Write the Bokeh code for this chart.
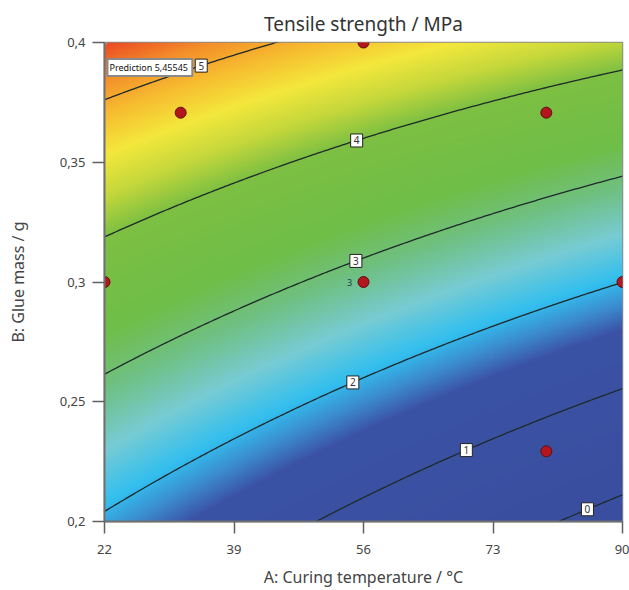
import numpy as np
from bokeh.plotting import figure
from bokeh.models import FixedTicker, Label
from bokeh.embed import file_html
from bokeh.resources import INLINE
from bokeh.core.properties import value

# ---- data ----
A_range = [22, 90]          # A: Curing temperature / °C
B_range = [0.2, 0.4]        # B: Glue mass / g
x_ticks = [22, 39, 56, 73, 90]
y_ticks = [0.2, 0.25, 0.3, 0.35, 0.4]
y_tick_labels = ["0,2", "0,25", "0,3", "0,35", "0,4"]

# fitted quadratic model in coded units a=(A-56)/34, b=(B-0.3)/0.1
# terms: const, a, b, ab, a^2, b^2
coef = [2.80, -0.834, 2.00, 0.255, 0.038, 0.0]
A_center, A_half = 56, 34
B_center, B_half = 0.3, 0.1

levels = [0, 1, 2, 3, 4, 5]
level_label_A = [85.4, 69.5, 54.6, 55.0, 55.1, 34.7]

design_A = [22, 56, 56, 90, 32, 80, 80]
design_B = [0.3, 0.4, 0.3, 0.3, 0.3707, 0.3707, 0.2293]
center_reps = "3"
prediction_text = "Prediction  5,45545"
title_text = "Tensile strength / MPa"
x_label = "A: Curing temperature / °C"
y_label = "B: Glue mass / g"

FONT = "Noto Sans"

def model(A, B):
    a = (np.asarray(A) - A_center) / A_half
    b = (np.asarray(B) - B_center) / B_half
    c0, c1, c2, c12, c11, c22 = coef
    return c0 + c1 * a + c2 * b + c12 * a * b + c11 * a * a + c22 * b * b

def contour_B(A, v):
    a = (np.asarray(A, dtype=float) - A_center) / A_half
    c0, c1, c2, c12, c11, c22 = coef
    lin = c2 + c12 * a
    const = c0 + c1 * a + c11 * a * a - v
    if abs(c22) < 1e-12:
        b = -const / lin
    else:
        disc = lin * lin - 4 * c22 * const
        b = (-lin + np.sqrt(np.maximum(disc, 0))) / (2 * c22)
    return B_center + b * B_half

# ---- colour ramp (style) ----
stops_v = [0.0, 1.55, 1.8, 2.05, 2.45, 2.9, 3.3, 4.0, 4.3, 4.6, 4.9, 5.15, 5.45]
stops_c = ["#3a4e9f", "#3b53a5", "#3c8dd0", "#33bfef", "#78ccd4", "#6fc081",
           "#6fbe48", "#7dc043", "#c5d83b", "#f4e83c", "#f7bc30", "#f4902a", "#ea3f22"]
rgb = np.array([[int(c[i:i + 2], 16) for i in (1, 3, 5)] for c in stops_c], dtype=float)

nx, ny = 360, 330
gA = np.linspace(A_range[0], A_range[1], nx)
gB = np.linspace(B_range[0], B_range[1], ny)
AA, BB = np.meshgrid(gA, gB)
Z = model(AA, BB)
img = np.empty((ny, nx), dtype=np.uint32)
view = img.view(dtype=np.uint8).reshape((ny, nx, 4))
for ch in range(3):
    view[:, :, ch] = np.interp(Z, stops_v, rgb[:, ch]).astype(np.uint8)
view[:, :, 3] = 255

p = figure(width=629, height=590, x_range=(A_range[0], A_range[1]),
           y_range=(B_range[0], B_range[1]), output_backend="svg",
           toolbar_location=None, min_border_left=104, min_border_right=7,
           min_border_top=42, min_border_bottom=69)
p.background_fill_color = "white"
p.border_fill_color = "white"
p.grid.visible = False
p.outline_line_color = "#8a8a8a"
p.outline_line_width = 1.5

p.title.text = title_text
p.title.align = "center"
p.title.text_font = FONT
p.title.text_font_size = "19px"
p.title.text_font_style = "normal"
p.title.text_color = "#333333"
p.title.standoff = 12

p.image_rgba(image=[img], x=A_range[0], y=B_range[0], dw=A_range[1] - A_range[0],
             dh=B_range[1] - B_range[0])

# contour lines
lineA = np.linspace(A_range[0], A_range[1], 300)
for v in levels:
    p.line(lineA, contour_B(lineA, v), line_color="#1e2a2a", line_width=1.3)

# contour labels
labB = [float(contour_B(a, v)) for a, v in zip(level_label_A, levels)]
p.rect(x=level_label_A, y=labB, width=12, height=13, width_units="screen",
       height_units="screen", fill_color="white", line_color="#222222", line_width=1)
p.text(x=level_label_A, y=labB, text=[str(v) for v in levels], text_align="center",
       text_baseline="middle", text_font=value(FONT), text_font_size="10px",
       text_color="#333333")

# design points
p.scatter(design_A, design_B, size=11, fill_color="#b3161c", line_color="#5a1010",
          line_width=1)
p.text(x=[design_A[2]], y=[design_B[2]], text=[center_reps], x_offset=-14,
       text_align="center", text_baseline="middle", text_font=value(FONT),
       text_font_size="9px", text_color="#1f4040")

# prediction flag
p.scatter([A_range[0]], [B_range[1]], size=5, fill_color="#999999", line_color="#999999")
p.add_layout(Label(x=A_range[0], y=B_range[1], x_offset=3, y_offset=-25,
                   text=prediction_text, text_font=FONT, text_font_size="9px",
                   text_color="#111111", text_baseline="middle",
                   background_fill_color="white", border_line_color="#8a8a8a",
                   border_line_width=2, padding=2))

# axes
for ax in (p.xaxis[0], p.yaxis[0]):
    ax.axis_line_color = "#707070"
    ax.axis_line_width = 2
    ax.major_tick_line_color = "#606060"
    ax.major_tick_line_width = 1.5
    ax.major_tick_out = 12
    ax.major_tick_in = 0
    ax.minor_tick_line_color = None
    ax.major_label_text_font = FONT
    ax.major_label_text_font_size = "13px"
    ax.major_label_text_color = "#444444"
    ax.axis_label_text_font = FONT
    ax.axis_label_text_font_size = "16px"
    ax.axis_label_text_font_style = "normal"
    ax.axis_label_text_color = "#444444"
p.xaxis.ticker = FixedTicker(ticks=x_ticks)
p.yaxis.ticker = FixedTicker(ticks=y_ticks)
p.yaxis.major_label_overrides = {t: l for t, l in zip(y_ticks, y_tick_labels)}
p.xaxis.major_label_standoff = 11
p.yaxis.major_label_standoff = 7
p.xaxis.axis_label = x_label
p.yaxis.axis_label = y_label
p.xaxis.axis_label_standoff = 9
p.yaxis.axis_label_standoff = 28

open("out.html", "w").write(file_html(p, INLINE))
